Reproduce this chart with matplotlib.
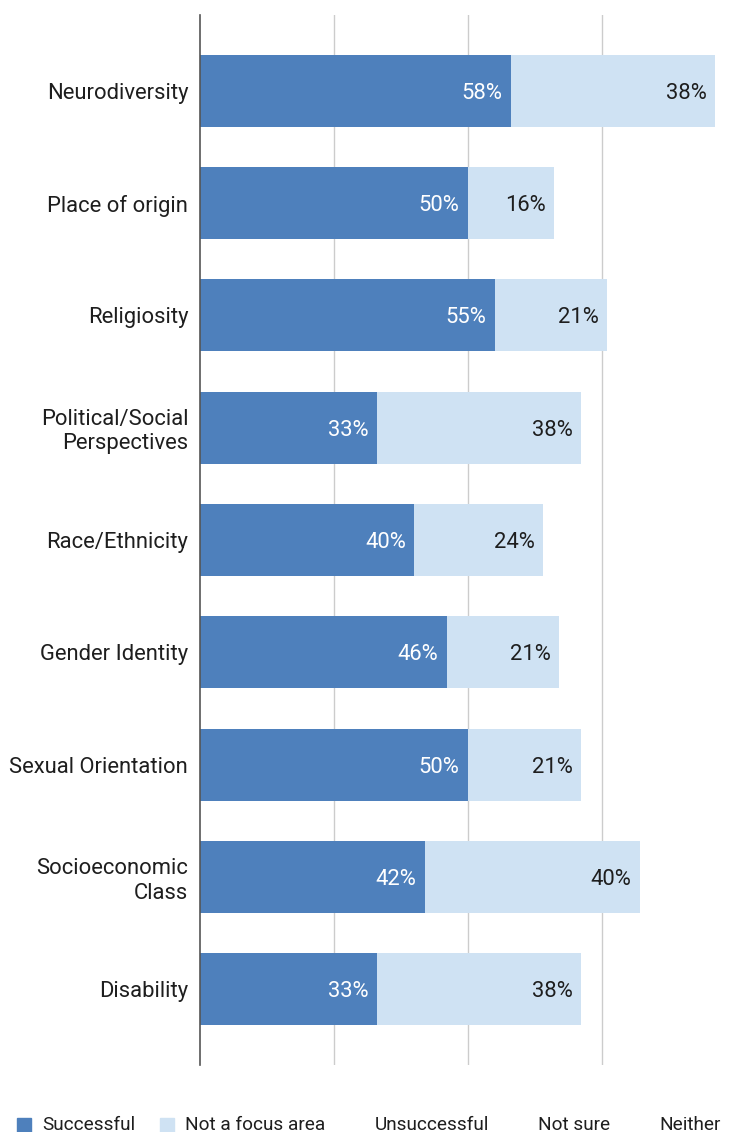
import matplotlib
matplotlib.use("Agg")
import matplotlib.pyplot as plt
from matplotlib.patches import Rectangle
import numpy as np

plt.rcParams['font.family'] = ['Roboto', 'DejaVu Sans']

categories = ["Neurodiversity", "Place of origin", "Religiosity",
              "Political/Social\nPerspectives", "Race/Ethnicity", "Gender Identity",
              "Sexual Orientation", "Socioeconomic\nClass", "Disability"]
successful = [58, 50, 55, 33, 40, 46, 50, 42, 33]
not_focus = [38, 16, 21, 38, 24, 21, 21, 40, 38]
unsuccessful = [0, 0, 0, 0, 0, 0, 0, 0, 0]
not_sure = [0, 0, 0, 0, 0, 0, 0, 0, 0]
neither = [0, 0, 0, 0, 0, 0, 0, 0, 0]
series_names = ["Successful", "Not a focus area", "Unsuccessful", "Not sure", "Neither"]

c_dark = "#4e80bc"
c_light = "#cfe2f3"
c_text = "#1e1e1e"

W, H = 733, 1132
fig = plt.figure(figsize=(W / 100, H / 100), dpi=100)
ax = fig.add_axes([200 / W, 1 - 1065 / H, 536 / W, (1065 - 15) / H])

y = np.arange(len(categories))
s = np.array(successful)
n = np.array(not_focus)
u = np.array(unsuccessful)
ns = np.array(not_sure)
ne = np.array(neither)

h = 0.64
ax.barh(y, s, height=h, color=c_dark, zorder=3)
ax.barh(y, n, left=s, height=h, color=c_light, zorder=3)
ax.barh(y, u, left=s + n, height=h, color="#ffffff", zorder=3)
ax.barh(y, ns, left=s + n + u, height=h, color="#ffffff", zorder=3)
ax.barh(y, ne, left=s + n + u + ns, height=h, color="#ffffff", zorder=3)

for yi, sv, nv in zip(y, s, n):
    ax.text(sv - 1.6, yi, f"{sv}%", ha="right", va="center_baseline", color="white",
            fontsize=15.8, zorder=4)
    ax.text(sv + nv - 1.5, yi, f"{nv}%", ha="right", va="center_baseline", color=c_text,
            fontsize=15.8, zorder=4)

ax.set_xlim(0, 100)
ax.set_ylim(len(categories) - 1 + 0.675, -0.675)
ax.set_xticks([25, 50, 75])
ax.xaxis.grid(True, color="#cccccc", linewidth=1, zorder=0)
ax.tick_params(axis="x", length=0, labelbottom=False)
ax.tick_params(axis="y", length=0, pad=8.5)
ax.set_yticks(y)
ax.set_yticklabels(categories, fontsize=15.8, color=c_text, linespacing=1.2)
for sp in ["top", "right", "bottom"]:
    ax.spines[sp].set_visible(False)
ax.spines["left"].set_color("#555555")
ax.spines["left"].set_linewidth(1.2)
ax.spines["left"].set_zorder(5)

# legend row along the bottom edge
legend_colors = [c_dark, c_light, None, None, None]
legend_x = [17, 160, 375, 538, 659]
ly = 1125
for name, col, lx in zip(series_names, legend_colors, legend_x):
    tx = lx
    if col is not None:
        fig.patches.append(Rectangle((lx / W, 1 - (ly + 7) / H), 14 / W, 14 / H,
                                     transform=fig.transFigure, color=col))
        tx = lx + 25
    fig.text(tx / W, 1 - ly / H, name, ha="left", va="center", fontsize=13.7,
             color=c_text)

fig.savefig("out.png", dpi=100)
